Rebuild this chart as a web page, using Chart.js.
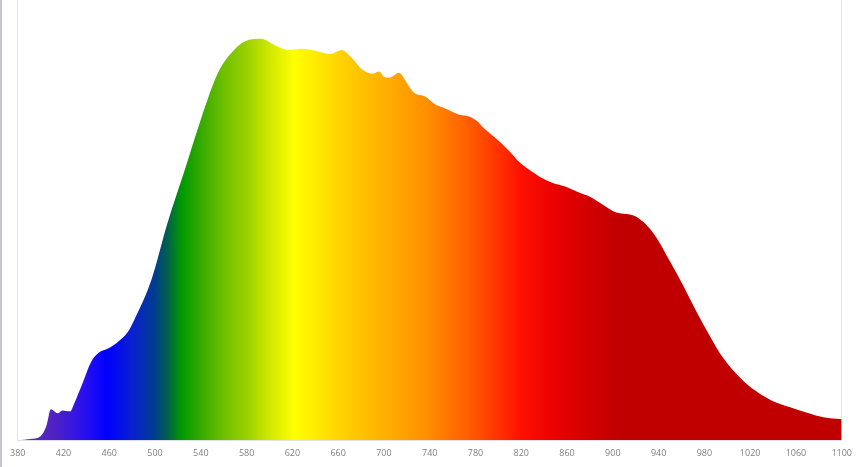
<!DOCTYPE html>
<html>
<head>
<meta charset="utf-8">
<script src="https://cdn.jsdelivr.net/npm/chart.js@4/dist/chart.umd.min.js"></script>
<style>
    html, body { margin: 0; padding: 0; background: #ffffff; }
    .wrap { position: relative; width: 860px; height: 467px; box-sizing: border-box; border-left: 2px solid #c4c4cc; }
    canvas { display: block; }
</style>
</head>
<body>
<div class="wrap"><canvas id="spectrumChart" width="858" height="467"></canvas></div>
<script>
// Wavelength (nm) and relative intensity
const wavelengths = [380, 391, 400, 405, 409, 415, 419, 426, 429, 437, 444, 451, 459, 467, 476, 482, 497, 511, 526, 540, 555, 569, 582, 593, 604, 617, 628, 640, 653, 663, 672, 681, 690, 696, 700, 705, 713, 720, 726, 736, 745, 754, 766, 775, 783, 786, 797, 810, 818, 827, 836, 847, 859, 871, 880, 891, 903, 915, 920, 929, 938, 950, 961, 973, 985, 996, 1011, 1025, 1040, 1055, 1069, 1084, 1100];
const intensity = [0, 0.3, 1.0, 3.5, 7.7, 6.7, 7.4, 7.2, 8.9, 14.4, 19.4, 21.8, 22.8, 24.3, 26.8, 30.0, 40.0, 54.1, 67.2, 79.7, 91.3, 97.0, 99.5, 99.8, 98.3, 97.0, 97.3, 96.8, 96.0, 97.0, 95.0, 92.1, 91.1, 91.6, 90.3, 90.1, 91.3, 88.8, 86.4, 85.4, 83.4, 82.4, 80.9, 80.4, 78.9, 77.9, 75.2, 71.7, 69.2, 67.2, 65.5, 64.0, 63.0, 61.5, 60.5, 58.6, 56.6, 56.1, 55.6, 53.6, 50.4, 44.4, 38.7, 32.0, 25.8, 20.6, 15.6, 12.2, 9.7, 8.2, 6.9, 5.7, 5.2];
const tickLabels = [380, 420, 460, 500, 540, 580, 620, 660, 700, 740, 780, 820, 860, 900, 940, 980, 1020, 1060, 1100];

// spectrum colours along the x axis
const stopNm = [380, 412, 438, 458, 480, 499, 511, 523, 540, 560, 580, 600, 622, 660, 700, 740, 780, 820, 850, 880, 905, 1100];
const stopColors = ['#5a2fb8', '#5022c4', '#2a10ee', '#0000ff', '#0a20d0', '#003c90', '#00604a', '#009900', '#35aa00', '#6ec000', '#9ad000', '#d0e800', '#ffff00', '#ffd400', '#ffb000', '#ff8c00', '#ff5400', '#ff1000', '#ea0000', '#d20000', '#c00000', '#c00000'];

const points = wavelengths.map((w, i) => ({ x: w, y: intensity[i] }));

function spectrumFill(context) {
    const chart = context.chart;
    const { ctx, chartArea, scales } = chart;
    if (!chartArea) return '#c00000';
    const x0 = scales.x.getPixelForValue(380);
    const x1 = scales.x.getPixelForValue(1100);
    const g = ctx.createLinearGradient(x0, 0, x1, 0);
    stopNm.forEach((nm, i) => {
        g.addColorStop((nm - 380) / 720, stopColors[i]);
    });
    return g;
}

new Chart(document.getElementById('spectrumChart'), {
    type: 'line',
    data: {
        datasets: [{
            data: points,
            fill: 'origin',
            backgroundColor: spectrumFill,
            borderWidth: 0,
            borderColor: 'rgba(0,0,0,0)',
            pointRadius: 0,
            cubicInterpolationMode: 'monotone'
        }]
    },
    options: {
        responsive: false,
        animation: false,
        events: [],
        layout: { padding: { left: 15, right: 15, top: 0, bottom: 0 } },
        plugins: {
            legend: { display: false },
            tooltip: { enabled: false }
        },
        scales: {
            x: {
                type: 'linear',
                min: 380,
                max: 1100,
                afterBuildTicks: (axis) => {
                    axis.ticks = tickLabels.map(v => ({ value: v }));
                },
                grid: { display: false, drawTicks: false },
                border: { display: true, color: '#dfe3f4', width: 1 },
                ticks: {
                    padding: 8,
                    maxRotation: 0,
                    autoSkip: false,
                    color: '#808080',
                    font: { family: 'Open Sans', size: 9 },
                    callback: (value) => String(value)
                }
            },
            y: {
                min: 0,
                max: 109.4,
                grid: { display: false, drawTicks: false },
                border: { display: true, color: '#dfe3f4', width: 1 },
                ticks: { display: false }
            },
            yRight: {
                position: 'right',
                min: 0,
                max: 109.4,
                grid: { display: false, drawTicks: false },
                border: { display: true, color: '#dfe3f4', width: 1 },
                ticks: { display: false }
            }
        }
    }
});
</script>
</body>
</html>
